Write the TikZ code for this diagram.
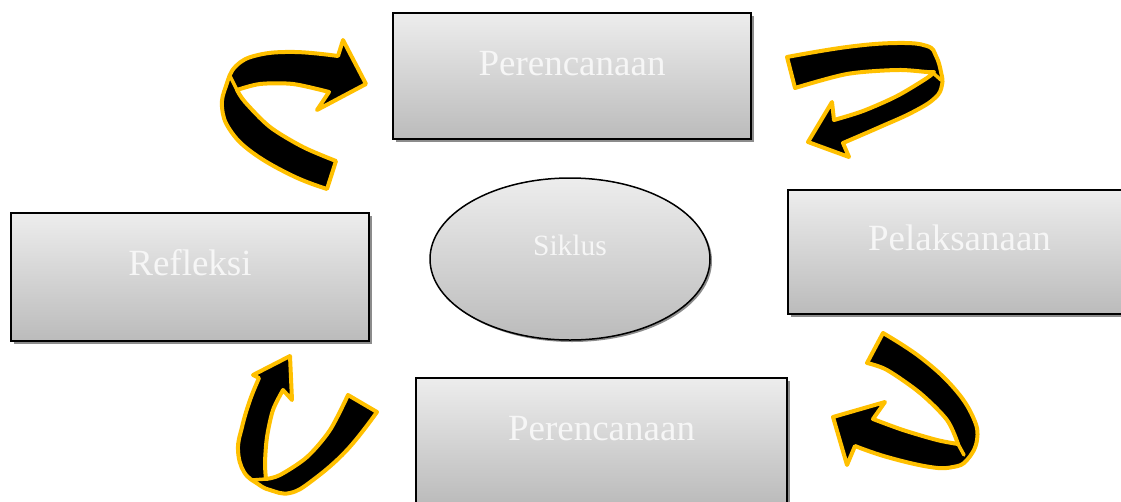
\documentclass[tikz,border=0pt]{standalone}
\usepackage{fontspec}
\setmainfont{Liberation Serif}
\usetikzlibrary{shadows,shapes.geometric}
\definecolor{ribbonedge}{HTML}{FFC000}
\definecolor{boxtop}{HTML}{EDEDED}
\definecolor{boxbottom}{HTML}{BBBBBB}
\definecolor{labeltext}{HTML}{F6F6F6}
\definecolor{shadowgray}{HTML}{8C8C8C}
\begin{document}
\begin{tikzpicture}[x=1pt,y=-1pt,
  stagebox/.style={draw=black, line width=1.5pt, rectangle, inner sep=0pt, outer sep=0pt,
    top color=boxtop, bottom color=boxbottom,
    drop shadow={shadow xshift=3pt, shadow yshift=-3pt, fill=shadowgray, opacity=1}},
  stagelabel/.style={text=labeltext, font=\fontsize{37}{40}\selectfont, inner sep=0pt, anchor=base},
  hub/.style={ellipse, draw=black, line width=1.5pt, inner sep=0pt,
    top color=boxtop, bottom color=boxbottom,
    drop shadow={shadow xshift=2pt, shadow yshift=-2pt, fill=shadowgray, opacity=1}},
  hublabel/.style={text=labeltext, font=\fontsize{29.5}{32}\selectfont, inner sep=0pt, anchor=base},
  ribbon/.style={fill=black, draw=ribbonedge, line width=4pt, line join=round},
  ribbonfold/.style={draw=ribbonedge, line width=3.5pt, line cap=round}]

\useasboundingbox (0,0) rectangle (1121,501);
\clip (0,0) rectangle (1121,501);

% stage boxes
\node[stagebox, anchor=north west, minimum width=358pt, minimum height=126pt] (plantop) at (393,13) {};
\node[stagebox, anchor=north west, minimum width=358pt, minimum height=128pt] (reflect) at (11,213) {};
\node[stagebox, anchor=north west, minimum width=343pt, minimum height=124pt] (act) at (788,190) {};
\node[stagebox, anchor=north west, minimum width=371pt, minimum height=126pt] (planbot) at (416,378) {};

\node[stagelabel] (plantoptext) at ([yshift=-62pt]plantop.north) {Perencanaan};
\node[stagelabel] (reflecttext) at ([yshift=-62pt]reflect.north) {Refleksi};
\node[stagelabel] (acttext) at ([yshift=-60pt]act.north) {Pelaksanaan};
\node[stagelabel] (planbottext) at ([yshift=-62pt]planbot.north) {Perencanaan};

% central ellipse
\node[hub, minimum width=280pt, minimum height=162pt] (siklus) at (570,259) {};
\node[hublabel] (sikluslabel) at (570,255) {Siklus};

% ribbon arrow, top left
\path[ribbon] (327,189) -- plot[smooth, tension=0.7] coordinates {(327,189) (293,176) (253,153) (230,130) (222,107) (226,86) (236,66) (258,55) (295,52) (338,56)}
  -- (343,40) -- (366,84) -- (317,110) -- (329,92)
  -- plot[smooth] coordinates {(329,92) (293,84) (260,84) (237,90)}
  -- plot[smooth] coordinates {(237,90) (245,102) (270,127) (303,147) (336,161)} -- cycle;
\draw[ribbonfold] (237,90) -- (230,76);

% ribbon arrow, top right
\path[ribbon] (787,57) -- plot[smooth, tension=0.7] coordinates {(787,57) (847,47) (897,43) (927,46) (936,56) (941,72) (942,85) (935,98) (913,112) (880,127) (843,143)}
  -- (849,157) -- (808,142) -- (832,102) -- (834,120)
  -- plot[smooth] coordinates {(834,120) (863,111) (897,96) (927,78) (934,72)}
  -- plot[smooth] coordinates {(934,72) (927,72) (897,70) (847,74) (795,88)} -- cycle;
\draw[ribbonfold] (932,72) -- (941,80);

% ribbon arrow, bottom right
\path[ribbon] (883,333) -- plot[smooth, tension=0.7] coordinates {(883,333) (920,357) (953,387) (973,417) (977,440) (967,460) (953,467) (930,467) (887,457) (855,446)}
  -- (847,465) -- (833,417) -- (885,402) -- (873,419)
  -- plot[smooth] coordinates {(873,419) (903,430) (937,440) (958,444)}
  -- plot[smooth] coordinates {(958,444) (947,420) (920,393) (887,370) (867,363)} -- cycle;
\draw[ribbonfold] (958,444) -- (964,455);

% ribbon arrow, bottom left
\path[ribbon] (377,412) -- plot[smooth, tension=0.7] coordinates {(377,412) (347,450) (313,480) (290,493) (270,490) (258,484) (244,472) (238,450) (242,427) (250,400) (259,378)}
  -- (253,375) -- (290,356) -- (292,400) -- (283,390)
  -- plot[smooth] coordinates {(283,390) (273,410) (267,437) (265,463) (266,479)}
  -- plot[smooth] coordinates {(266,479) (280,475) (307,457) (330,430) (348,395)} -- cycle;
\draw[ribbonfold] (266,479) -- (252,480);

\end{tikzpicture}
\end{document}
